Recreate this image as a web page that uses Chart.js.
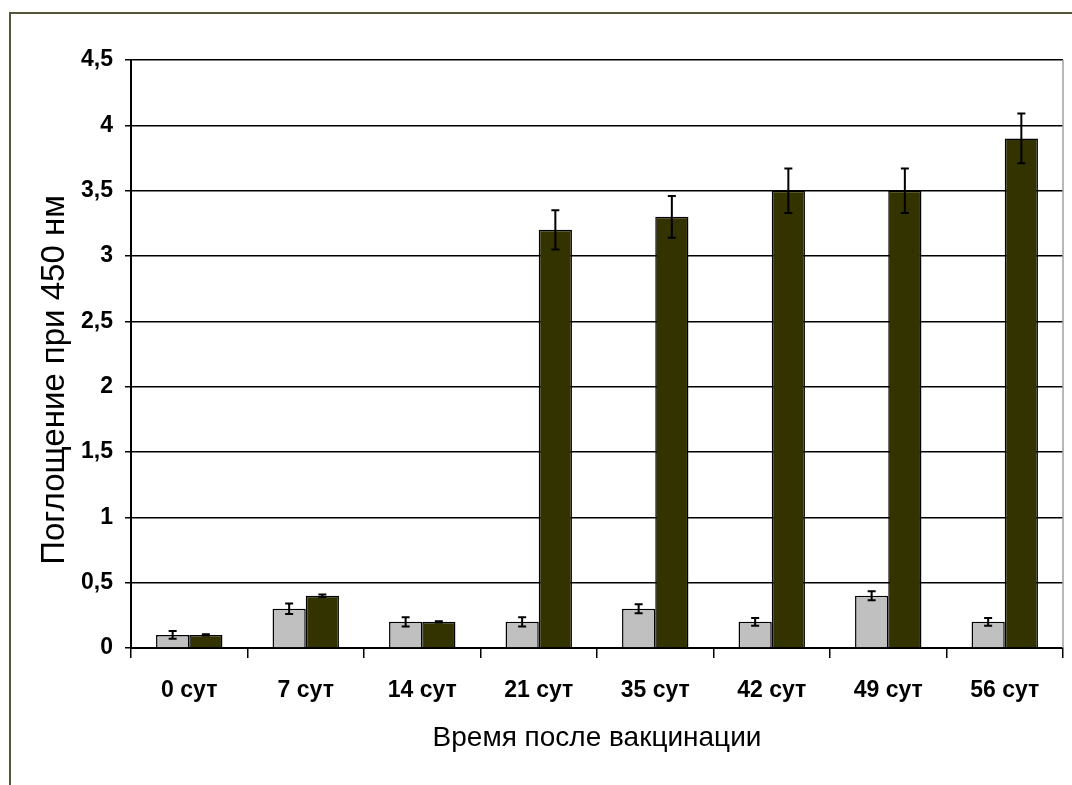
<!DOCTYPE html>
<html lang="ru">
<head>
<meta charset="utf-8">
<title>Поглощение при 450 нм</title>
<script src="https://cdn.jsdelivr.net/npm/chart.js@4/dist/chart.umd.min.js"></script>
<style>
  html, body { margin: 0; padding: 0; background: #ffffff; }
  body { width: 1072px; height: 785px; position: relative; overflow: hidden; }
  #frame {
    position: absolute; left: 9px; top: 12px; width: 1100px; height: 800px;
    border-left: 2px solid #55553a; border-top: 2px solid #55553a;
    box-sizing: border-box;
  }
  #chart { position: absolute; left: 0; top: 0; }
</style>
</head>
<body>
<div id="frame"></div>
<canvas id="chart" width="1072" height="785"></canvas>
<script>
// Sampling days after vaccination
const categories = ['0 сут', '7 сут', '14 сут', '21 сут', '35 сут', '42 сут', '49 сут', '56 сут'];

// Absorbance at 450 nm: control group (light) and vaccinated group (dark)
const controlValues = [0.1, 0.3, 0.2, 0.2, 0.3, 0.2, 0.4, 0.2];
const controlErrors = [0.03, 0.04, 0.035, 0.035, 0.035, 0.03, 0.035, 0.03];
const vaccineValues = [0.1, 0.4, 0.2, 3.2, 3.3, 3.5, 3.5, 3.9];
const vaccineErrors = [0.005, 0.01, 0.005, 0.15, 0.16, 0.17, 0.17, 0.19];

// Value axis range
const yMin = 0;
const yMax = 4.5;
const yStep = 0.5;

const yTitle = 'Поглощение при 450 нм';
const xTitle = 'Время после вакцинации';
const fontFamily = '"Liberation Sans", Arial, sans-serif';

const errorsByDataset = [controlErrors, vaccineErrors];

// Draws symmetric error bars on top of each bar
const errorBarPlugin = {
  id: 'errorBars',
  afterDatasetsDraw(chart) {
    const ctx = chart.ctx;
    const yScale = chart.scales.y;
    ctx.save();
    ctx.strokeStyle = '#000000';
    ctx.lineWidth = 2;
    chart.data.datasets.forEach((ds, di) => {
      const meta = chart.getDatasetMeta(di);
      const errs = errorsByDataset[di];
      meta.data.forEach((bar, i) => {
        const v = ds.data[i];
        const e = errs[i];
        const yTop = yScale.getPixelForValue(v + e);
        const yBot = yScale.getPixelForValue(v - e);
        const x = bar.x;
        const cap = 4;
        ctx.beginPath();
        ctx.moveTo(x, yTop);
        ctx.lineTo(x, yBot);
        ctx.moveTo(x - cap, yTop);
        ctx.lineTo(x + cap, yTop);
        ctx.moveTo(x - cap, yBot);
        ctx.lineTo(x + cap, yBot);
        ctx.stroke();
      });
    });
    ctx.restore();
  }
};

// Light grey right edge of the plot area and the rotated value-axis title
const decorPlugin = {
  id: 'decor',
  afterDraw(chart) {
    const a = chart.chartArea;
    const ctx = chart.ctx;
    ctx.save();
    ctx.strokeStyle = '#a0a0a0';
    ctx.lineWidth = 1.5;
    ctx.beginPath();
    ctx.moveTo(a.right, a.top);
    ctx.lineTo(a.right, a.bottom);
    ctx.stroke();

    ctx.translate(55, (a.top + a.bottom) / 2 + 26);
    ctx.rotate(-Math.PI / 2);
    ctx.fillStyle = '#000000';
    ctx.font = '33px ' + fontFamily;
    ctx.textAlign = 'center';
    ctx.textBaseline = 'middle';
    ctx.fillText(yTitle, 0, 0);
    ctx.restore();
  }
};

new Chart(document.getElementById('chart'), {
  type: 'bar',
  data: {
    labels: categories,
    datasets: [
      {
        label: 'Контроль',
        data: controlValues,
        backgroundColor: '#c0c0c0',
        borderColor: '#000000',
        borderWidth: 1.5,
        categoryPercentage: 0.57,
        barPercentage: 1.0
      },
      {
        label: 'Вакцина',
        data: vaccineValues,
        backgroundColor: '#333300',
        borderColor: '#000000',
        borderWidth: 1.5,
        categoryPercentage: 0.57,
        barPercentage: 1.0
      }
    ]
  },
  options: {
    responsive: false,
    animation: false,
    devicePixelRatio: 1,
    layout: { padding: { left: 34, top: 60, right: 9, bottom: 26 } },
    plugins: {
      legend: { display: false },
      tooltip: { enabled: false }
    },
    scales: {
      x: {
        afterFit(scale) { scale.height = 111; },
        grid: {
          display: true,
          drawOnChartArea: false,
          drawTicks: true,
          tickLength: 10,
          color: '#000000',
          lineWidth: 1.5,
          offset: true
        },
        border: { display: true, color: '#000000', width: 2 },
        ticks: {
          color: '#000000',
          padding: 19,
          maxRotation: 0,
          font: { family: fontFamily, size: 23, weight: 'bold' }
        },
        title: {
          display: true,
          text: xTitle,
          color: '#000000',
          padding: { top: 4, bottom: 4 },
          font: { family: fontFamily, size: 28 }
        }
      },
      y: {
        min: yMin,
        max: yMax,
        afterFit(scale) { scale.width = 97; },
        grid: {
          color: '#000000',
          lineWidth: 1.5,
          drawTicks: true,
          tickLength: 6
        },
        border: { display: true, color: '#000000', width: 2 },
        ticks: {
          stepSize: yStep,
          color: '#000000',
          padding: 12,
          font: { family: fontFamily, size: 23, weight: 'bold' },
          callback: (v) => String(v).replace('.', ',')
        }
      }
    }
  },
  plugins: [errorBarPlugin, decorPlugin]
});
</script>
</body>
</html>
